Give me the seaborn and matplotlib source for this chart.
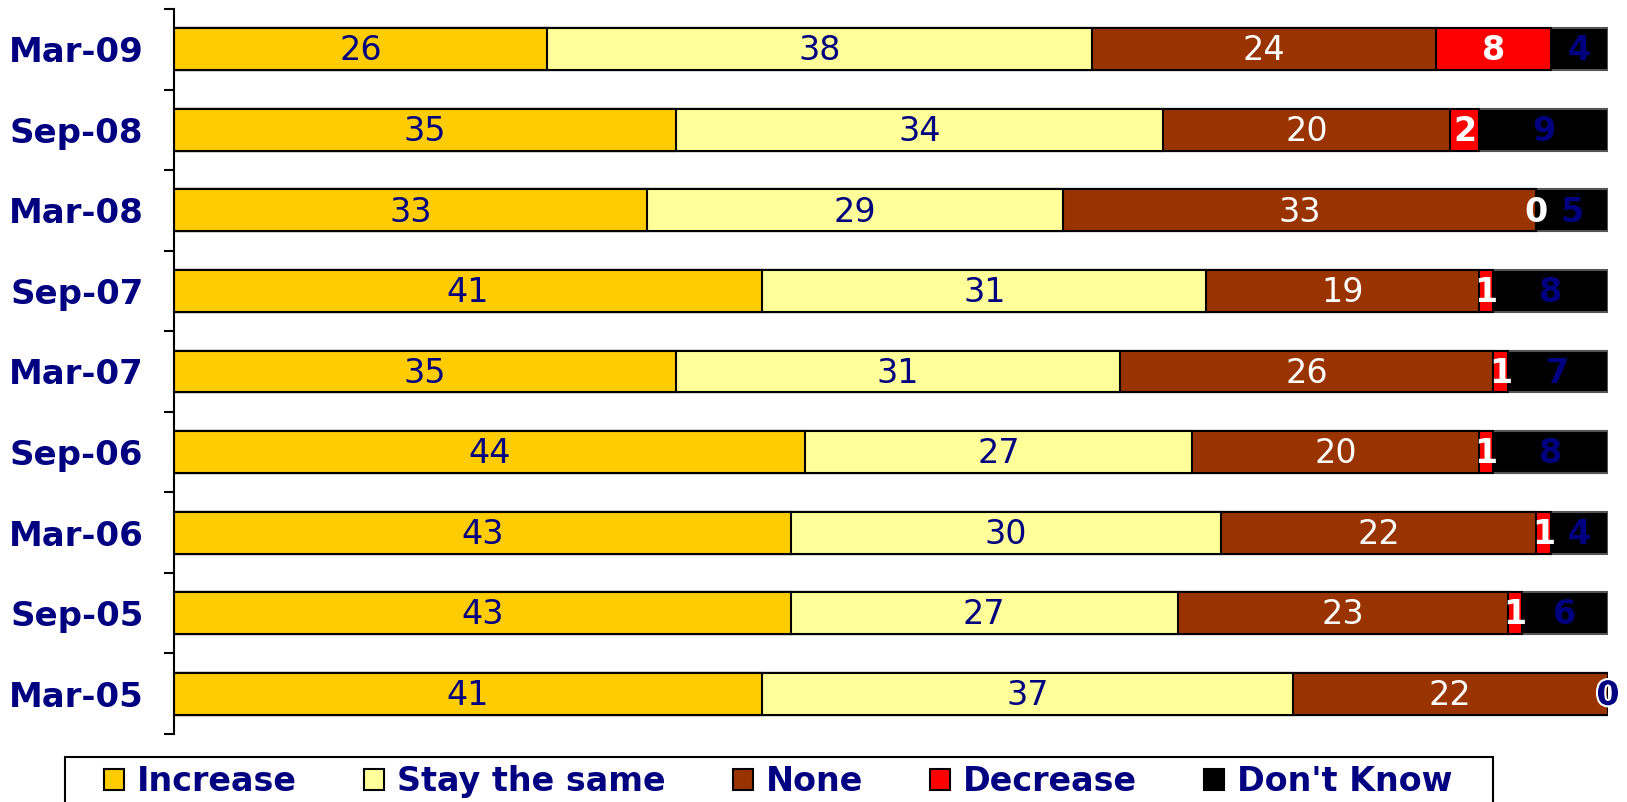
import numpy as np
import pandas as pd
import matplotlib
matplotlib.use("Agg")
import matplotlib.pyplot as plt
import matplotlib.patheffects as pe
import seaborn as sns
from matplotlib.patches import Patch, Rectangle

periods = ["Mar-09", "Sep-08", "Mar-08", "Sep-07", "Mar-07",
           "Sep-06", "Mar-06", "Sep-05", "Mar-05"]
increase = [26, 35, 33, 41, 35, 44, 43, 43, 41]
stay_same = [38, 34, 29, 31, 31, 27, 30, 27, 37]
none = [24, 20, 33, 19, 26, 20, 22, 23, 22]
decrease = [8, 2, 0, 1, 1, 1, 1, 1, 0]
dont_know = [4, 9, 5, 8, 7, 8, 4, 6, 0]

series_names = ["Increase", "Stay the same", "None", "Decrease", "Don't Know"]
series_vals = [increase, stay_same, none, decrease, dont_know]
colors = ["#FFCC00", "#FFFF99", "#993300", "#FF0000", "#000000"]
label_colors = ["#000080", "#000080", "white", "white", "#000080"]
label_weights = ["normal", "normal", "normal", "bold", "bold"]

NAVY = "#000080"
W, H = 1627, 802

sns.set_theme(style="white")
plt.rcParams["font.family"] = ["DejaVu Sans"]

fig = plt.figure(figsize=(W / 100, H / 100), dpi=100)
ax = fig.add_axes([174 / W, 1 - 734 / H, (1608 - 174) / W, (734 - 9) / H])

df = pd.DataFrame({name: vals for name, vals in zip(series_names, series_vals)})
df["period"] = periods
cum = df[series_names].cumsum(axis=1)

# Stacked bars: draw cumulative totals from the outermost segment inward
for name, col in reversed(list(zip(series_names, colors))):
    edge = "#555555" if col == "#000000" else "black"
    sns.barplot(x=cum[name], y=df["period"], orient="h", color=col,
                edgecolor=edge, linewidth=1.5, width=0.52, ax=ax,
                saturation=1, errorbar=None)

# Segment value labels
for j, name in enumerate(series_names):
    starts = cum[name] - df[name]
    for i in range(len(periods)):
        v = df[name].iloc[i]
        xc = starts.iloc[i] + v / 2
        effects = None
        if name == "Don't Know" and v == 0:
            xc = 100.0
            effects = [pe.withStroke(linewidth=3, foreground="white")]
        ax.text(xc, i + 0.02, f"{v}", ha="center", va="center",
                color=label_colors[j], fontsize=24,
                fontweight=label_weights[j], zorder=5,
                path_effects=effects)

ax.set_xlim(0, 100)
ax.set_ylim(len(periods) - 0.5, -0.5)
ax.set_xlabel("")
ax.set_ylabel("")
ax.set_xticks([])
for s in ["top", "right", "bottom"]:
    ax.spines[s].set_visible(False)
ax.spines["left"].set_color("black")
ax.spines["left"].set_linewidth(1.5)

ax.set_yticks(range(len(periods)))
ax.set_yticklabels(periods, fontsize=24.5, fontweight="bold", color=NAVY)
ax.tick_params(axis="y", which="major", length=0, pad=22)
ax.set_yticks(np.arange(-0.5, len(periods), 1.0), minor=True)
ax.tick_params(axis="y", which="minor", length=7.5, width=1.5, color="black",
               direction="out", left=True)

# Legend frame running off the bottom edge
fig.patches.append(Rectangle((65 / W, -0.05), (1493 - 65) / W, 0.05 + 1 - 757 / H,
                             transform=fig.transFigure, facecolor="white",
                             edgecolor="black", linewidth=1.5, zorder=1))

handles = [Patch(facecolor=c, edgecolor="black", linewidth=1.5) for c in colors]
leg = fig.legend(handles, series_names, loc="upper left",
                 bbox_to_anchor=(104 / W, 1 - 765 / H), ncol=5,
                 frameon=False,
                 prop={"size": 24, "weight": "bold"},
                 handlelength=0.6, handleheight=0.6, handletextpad=0.4,
                 columnspacing=2.0, borderpad=0, borderaxespad=0)
leg.set_zorder(2)
for t in leg.get_texts():
    t.set_color(NAVY)

fig.savefig("out.png", dpi=100)
